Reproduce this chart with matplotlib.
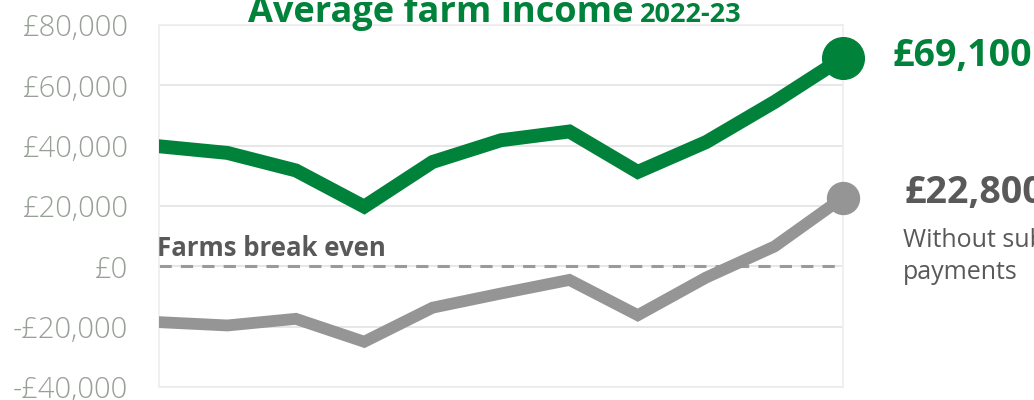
import numpy as np
import matplotlib
matplotlib.use("Agg")
import matplotlib.pyplot as plt
from matplotlib.ticker import FuncFormatter

plt.rcParams["font.family"] = ["Open Sans", "DejaVu Sans"]

# Data, 11 years ending 2022-23
years = ["2012-13", "2013-14", "2014-15", "2015-16", "2016-17", "2017-18",
         "2018-19", "2019-20", "2020-21", "2021-22", "2022-23"]
income = [39800, 37600, 31800, 19800, 34600, 41800, 44700, 31300, 41200, 54500, 69100]
income_no_subsidy = [-18500, -19600, -17400, -25000, -13700, -9000, -4500,
                     -16200, -3700, 6600, 22800]
y_ticks = [-40000, -20000, 0, 20000, 40000, 60000, 80000]

GREEN = "#00823B"
GREY = "#959595"
DARK = "#595959"
TICK = "#979F96"

fig = plt.figure(figsize=(10.34, 4.0), dpi=100)
ax = fig.add_axes([159 / 1034, 13 / 400, 684 / 1034, 362 / 400])

x = np.arange(len(years))
ax.plot(x, income, color=GREEN, lw=10, solid_joinstyle="miter", zorder=4)
ax.plot(x[-1], income[-1], "o", color=GREEN, ms=30, clip_on=False, zorder=5)
ax.plot(x, income_no_subsidy, color=GREY, lw=8.5, solid_joinstyle="miter", zorder=3)
ax.plot(x[-1], income_no_subsidy[-1], "o", color=GREY, ms=23, clip_on=False, zorder=5)

ax.axhline(0, color="#9A9A9A", lw=2.2, ls=(0, (4, 3)), zorder=2)

ax.set_xlim(0, len(years) - 1)
ax.set_ylim(-40000, 80000)
ax.set_yticks(y_ticks)
ax.set_xticks([])
ax.yaxis.set_major_formatter(FuncFormatter(
    lambda v, p: ("-£{:,.0f}" if v < 0 else "£{:,.0f}").format(abs(v))))
ax.tick_params(axis="y", length=0, pad=22, labelsize=21, labelcolor=TICK)
for lab in ax.get_yticklabels():
    lab.set_fontweight("light")
ax.grid(axis="y", color="#E3E3E3", lw=1.2, zorder=0)
for s in ax.spines.values():
    s.set_color("#EEEEEE")
    s.set_linewidth(1.2)

ax.text(-0.03, 1500, "Farms break even", fontsize=18.5, fontweight="bold",
        color=DARK, ha="left", va="bottom")

fig.text(633 / 1034, 1 - 22 / 400, "Average farm income", fontsize=26,
         fontweight="bold", color=GREEN, ha="right", va="baseline")
fig.text(640 / 1034, 1 - 22 / 400, "2022-23", fontsize=19.5,
         fontweight="bold", color=GREEN, ha="left", va="baseline")

fig.text(893 / 1034, 1 - 66 / 400, "£69,100", fontsize=27, fontweight="bold",
         color=GREEN, ha="left", va="baseline")
fig.text(905 / 1034, 1 - 203 / 400, "£22,800", fontsize=27, fontweight="bold",
         color=DARK, ha="left", va="baseline")
fig.text(903 / 1034, 1 - 247 / 400, "Without subsidy", fontsize=18,
         color=DARK, ha="left", va="baseline")
fig.text(903 / 1034, 1 - 279 / 400, "payments", fontsize=18,
         color=DARK, ha="left", va="baseline")

fig.savefig("out.png", dpi=100)
